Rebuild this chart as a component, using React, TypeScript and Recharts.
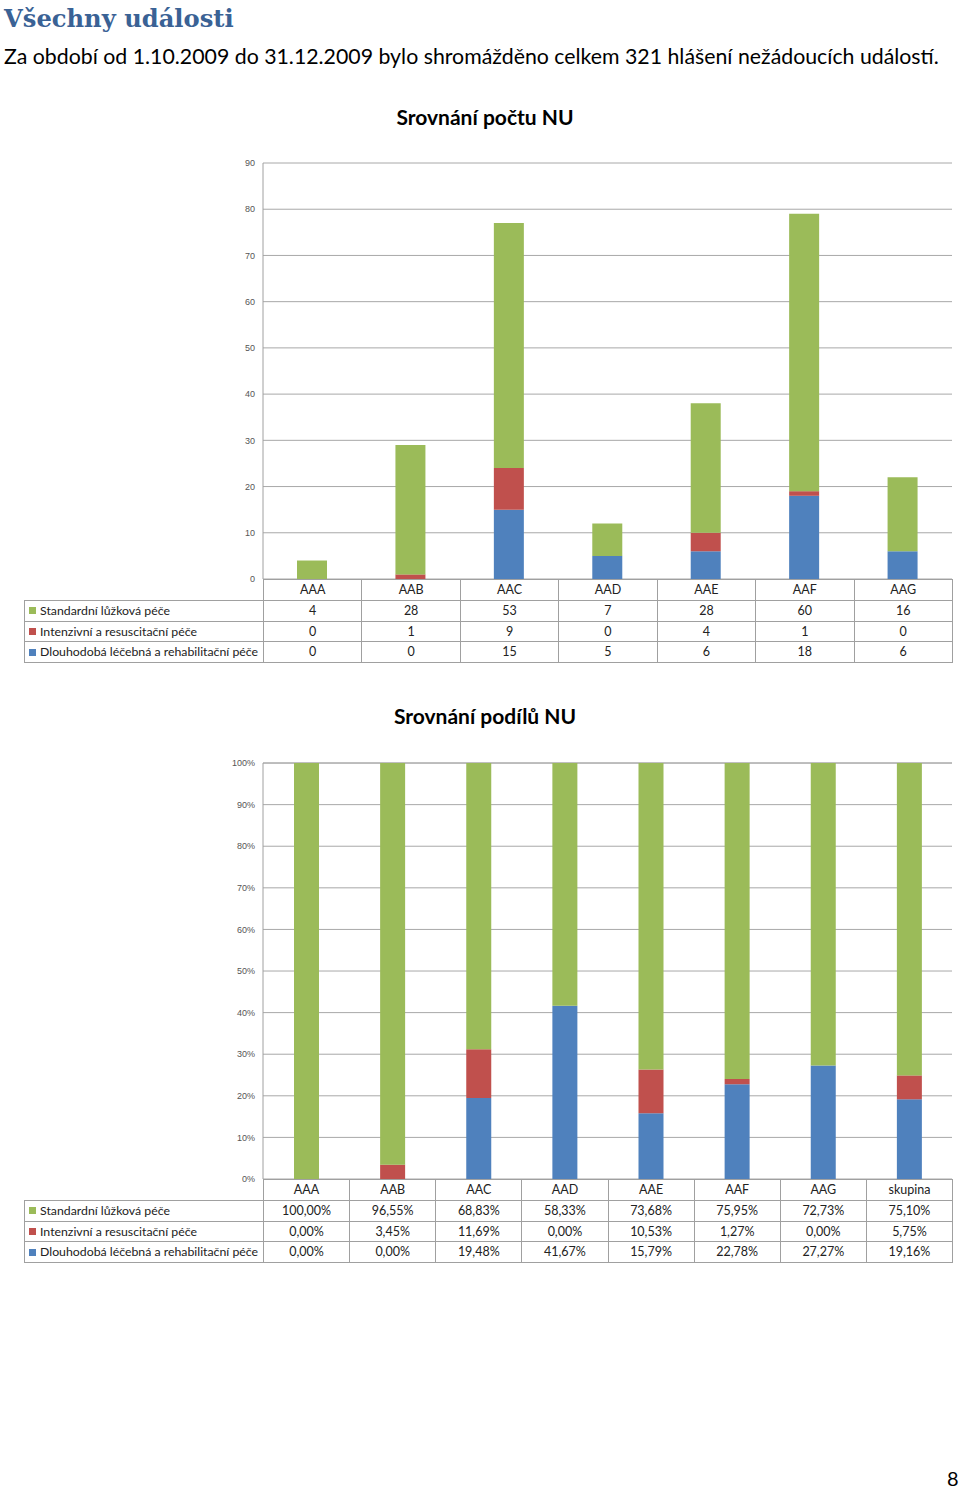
import React from "react";
import { BarChart, Bar, XAxis, YAxis, CartesianGrid } from "recharts";

const categories1 = ["AAA", "AAB", "AAC", "AAD", "AAE", "AAF", "AAG"];
const standard1 = [4, 28, 53, 7, 28, 60, 16];
const intensive1 = [0, 1, 9, 0, 4, 1, 0];
const longterm1 = [0, 0, 15, 5, 6, 18, 6];
const ticks1 = [0, 10, 20, 30, 40, 50, 60, 70, 80, 90];

const categories2 = ["AAA", "AAB", "AAC", "AAD", "AAE", "AAF", "AAG", "skupina"];
const standard2 = [100.0, 96.55, 68.83, 58.33, 73.68, 75.95, 72.73, 75.1];
const intensive2 = [0.0, 3.45, 11.69, 0.0, 10.53, 1.27, 0.0, 5.75];
const longterm2 = [0.0, 0.0, 19.48, 41.67, 15.79, 22.78, 27.27, 19.16];
const ticks2 = [0, 10, 20, 30, 40, 50, 60, 70, 80, 90, 100];

const seriesNames = [
  "Standardní lůžková péče",
  "Intenzivní a resuscitační péče",
  "Dlouhodobá léčebná a rehabilitační péče",
];

const GREEN = "#9BBB59";
const RED = "#C0504D";
const BLUE = "#4F81BD";
const GRID = "#a8a8a8";
const BORDER = "#a0a0a0";
const TEXT_FONT = "Lato, 'Open Sans', sans-serif";

const data1 = categories1.map((c, i) => ({
  name: c,
  standard: standard1[i],
  intensive: intensive1[i],
  longterm: longterm1[i],
}));

const data2 = categories2.map((c, i) => ({
  name: c,
  standard: standard2[i],
  intensive: intensive2[i],
  longterm: longterm2[i],
}));

const fmtPct = (v: number) => v.toFixed(2).replace(".", ",") + "%";

type Row = { label: string; color: string; values: string[] };

function DataTable({
  top,
  categories,
  rows,
}: {
  top: number;
  categories: string[];
  rows: Row[];
}) {
  const left = 24;
  const firstW = 239;
  const total = 928;
  const colW = (total - firstW) / categories.length;
  const rowH = 19.8;
  const cellBase: React.CSSProperties = {
    border: `1px solid ${BORDER}`,
    padding: 0,
    height: rowH,
    lineHeight: `${rowH}px`,
    textAlign: "center",
    fontSize: 12.5,
    color: "#222",
    whiteSpace: "nowrap",
    overflow: "hidden",
  };
  return (
    <table
      style={{
        position: "absolute",
        left,
        top,
        width: total,
        borderCollapse: "collapse",
        tableLayout: "fixed",
        fontFamily: TEXT_FONT,
      }}
    >
      <colgroup>
        <col style={{ width: firstW }} />
        {categories.map((c) => (
          <col key={c} style={{ width: colW }} />
        ))}
      </colgroup>
      <tbody>
        <tr style={{ height: rowH }}>
          <td style={{ ...cellBase, border: "none", borderRight: `1px solid ${BORDER}` }} />
          {categories.map((c) => (
            <td key={c} style={cellBase}>
              {c}
            </td>
          ))}
        </tr>
        {rows.map((r) => (
          <tr key={r.label} style={{ height: rowH }}>
            <td style={{ ...cellBase, textAlign: "left", fontSize: 12.3, paddingLeft: 4 }}>
              <span
                style={{
                  display: "inline-block",
                  width: 7,
                  height: 7,
                  background: r.color,
                  marginRight: 4,
                  verticalAlign: "middle",
                  position: "relative",
                  top: -1,
                }}
              />
              {r.label}
            </td>
            {r.values.map((v, i) => (
              <td key={i} style={cellBase}>
                {v}
              </td>
            ))}
          </tr>
        ))}
      </tbody>
    </table>
  );
}

const tickStyle = { fontSize: 9, fill: "#555", fontFamily: "Arial, 'Liberation Sans', sans-serif" };

const chartTitleStyle: React.CSSProperties = {
  position: "absolute",
  left: 0,
  width: 960,
  textAlign: "center",
  paddingLeft: 10,
  boxSizing: "border-box",
  fontFamily: TEXT_FONT,
  fontWeight: "bold",
  fontSize: 21,
  lineHeight: "28px",
};

export default function App() {
  return (
    <div
      style={{
        position: "absolute",
        left: 0,
        top: 0,
        width: 960,
        height: 1488,
        background: "#fff",
      }}
    >
      <div
        style={{
          position: "absolute",
          left: 4,
          top: 1,
          fontFamily: "'DejaVu Serif', serif",
          fontWeight: "bold",
          fontSize: 24.2,
          color: "#3A6295",
          lineHeight: "36px",
          whiteSpace: "nowrap",
        }}
      >
        Všechny události
      </div>
      <div
        style={{
          position: "absolute",
          left: 4,
          top: 42,
          fontFamily: TEXT_FONT,
          fontSize: 21.3,
          color: "#000",
          lineHeight: "28px",
          whiteSpace: "nowrap",
        }}
      >
        Za období od 1.10.2009 do 31.12.2009 bylo shromážděno celkem 321 hlášení nežádoucích událostí.
      </div>

      <div style={{ ...chartTitleStyle, top: 103 }}>Srovnání počtu NU</div>

      <div style={{ position: "absolute", left: 0, top: 150 }}>
        <BarChart
          width={960}
          height={440}
          data={data1}
          margin={{ top: 13, right: 8, left: 233, bottom: 11 }}
          barSize={30}
        >
          <CartesianGrid horizontal vertical={false} stroke={GRID} />
          <XAxis dataKey="name" hide />
          <YAxis
            width={30}
            domain={[0, 90]}
            ticks={ticks1}
            tickSize={0}
            tickMargin={8}
            axisLine={{ stroke: BORDER }}
            tickLine={false}
            tick={tickStyle}
            interval={0}
          />
          <Bar dataKey="longterm" stackId="a" fill={BLUE} isAnimationActive={false} />
          <Bar dataKey="intensive" stackId="a" fill={RED} isAnimationActive={false} />
          <Bar dataKey="standard" stackId="a" fill={GREEN} isAnimationActive={false} />
        </BarChart>
      </div>

      <DataTable
        top={579}
        categories={categories1}
        rows={[
          { label: seriesNames[0], color: GREEN, values: standard1.map(String) },
          { label: seriesNames[1], color: RED, values: intensive1.map(String) },
          { label: seriesNames[2], color: BLUE, values: longterm1.map(String) },
        ]}
      />

      <div style={{ ...chartTitleStyle, top: 702 }}>Srovnání podílů NU</div>

      <div style={{ position: "absolute", left: 0, top: 750 }}>
        <BarChart
          width={960}
          height={440}
          data={data2}
          margin={{ top: 13, right: 8, left: 228, bottom: 11 }}
          barSize={25}
        >
          <CartesianGrid horizontal vertical={false} stroke={GRID} />
          <XAxis dataKey="name" hide />
          <YAxis
            width={35}
            domain={[0, 100]}
            ticks={ticks2}
            tickSize={0}
            tickMargin={8}
            axisLine={{ stroke: BORDER }}
            tickLine={false}
            tick={tickStyle}
            tickFormatter={(v: number) => `${v}%`}
            interval={0}
          />
          <Bar dataKey="longterm" stackId="a" fill={BLUE} isAnimationActive={false} />
          <Bar dataKey="intensive" stackId="a" fill={RED} isAnimationActive={false} />
          <Bar dataKey="standard" stackId="a" fill={GREEN} isAnimationActive={false} />
        </BarChart>
      </div>

      <DataTable
        top={1179}
        categories={categories2}
        rows={[
          { label: seriesNames[0], color: GREEN, values: standard2.map(fmtPct) },
          { label: seriesNames[1], color: RED, values: intensive2.map(fmtPct) },
          { label: seriesNames[2], color: BLUE, values: longterm2.map(fmtPct) },
        ]}
      />

      <div
        style={{
          position: "absolute",
          left: 947,
          top: 1466,
          fontFamily: TEXT_FONT,
          fontSize: 20,
          lineHeight: "24px",
        }}
      >
        8
      </div>
    </div>
  );
}
